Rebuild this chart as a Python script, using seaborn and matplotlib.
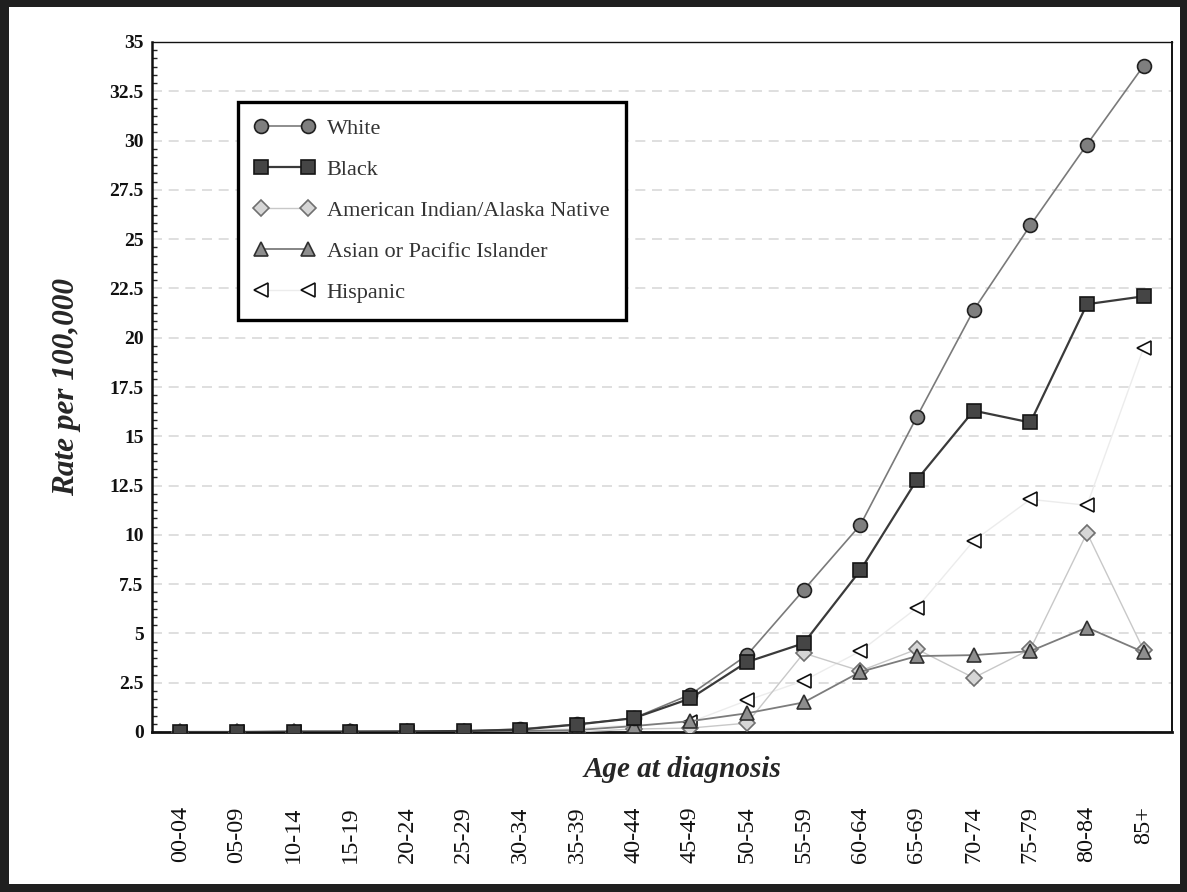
import matplotlib as mpl
mpl.use("Agg")
import matplotlib.pyplot as plt
import pandas as pd
import seaborn as sns
from matplotlib.patches import Rectangle
from matplotlib.ticker import AutoMinorLocator, FormatStrFormatter, MultipleLocator

# age groups and rates per 100,000
ages = ["00-04", "05-09", "10-14", "15-19", "20-24", "25-29", "30-34", "35-39", "40-44",
        "45-49", "50-54", "55-59", "60-64", "65-69", "70-74", "75-79", "80-84", "85+"]
white = [0.0, 0.0, 0.02, 0.03, 0.03, 0.05, 0.15, 0.4, 0.7, 1.9, 3.9, 7.2, 10.5, 16.0, 21.4, 25.7, 29.8, 33.8]
black = [0.0, 0.0, 0.02, 0.02, 0.03, 0.05, 0.12, 0.38, 0.7, 1.7, 3.55, 4.5, 8.2, 12.8, 16.3, 15.7, 21.7, 22.1]
aian = [0.0, 0.0, 0.0, 0.0, 0.0, 0.0, 0.03, 0.0, 0.15, 0.2, 0.45, 4.0, 3.1, 4.2, 2.75, 4.2, 10.1, 4.15]
asian = [0.0, 0.0, 0.0, 0.0, 0.0, 0.02, 0.05, 0.1, 0.3, 0.55, 0.95, 1.5, 3.05, 3.85, 3.9, 4.1, 5.3, 4.05]
hispanic = [0.0, 0.0, 0.0, 0.0, 0.0, 0.02, 0.05, 0.2, 0.35, 0.5, 1.6, 2.6, 4.1, 6.3, 9.7, 11.8, 11.5, 19.5]

series = {
    "White": white,
    "Black": black,
    "American Indian/Alaska Native": aian,
    "Asian or Pacific Islander": asian,
    "Hispanic": hispanic,
}

styles = {
    "White": dict(color="#7a7a7a", marker="o", mfc="#7f7f7f", mec="#202020", lw=1.2, z=5),
    "Black": dict(color="#3a3a3a", marker="s", mfc="#454545", mec="#151515", lw=1.6, z=6),
    "American Indian/Alaska Native": dict(color="#c8c8c8", marker="D", mfc="#d6d6d6", mec="#707070", lw=1.0, z=3),
    "Asian or Pacific Islander": dict(color="#7c7c7c", marker="^", mfc="#8e8e8e", mec="#303030", lw=1.3, z=4),
    "Hispanic": dict(color="#ececec", marker="<", mfc="white", mec="#101010", lw=1.0, z=2),
}

sns.set_style("white")
plt.rcParams["font.family"] = ["Liberation Serif", "DejaVu Serif"]

fig = plt.figure(figsize=(11.87, 8.92), dpi=100)
fig.patch.set_facecolor("#1f1f1f")
fig.patches.append(Rectangle((9 / 1187, 8 / 892), 1 - 16 / 1187, 1 - 15 / 892,
                             transform=fig.transFigure, facecolor="white", edgecolor="none", zorder=-10))
ax = fig.add_axes([152 / 1187, 160 / 892, 1020 / 1187, 690 / 892])
ax.set_facecolor("white")

for name, vals in series.items():
    st = styles[name]
    df = pd.DataFrame({"age": ages, "rate": vals})
    sns.lineplot(data=df, x="age", y="rate", ax=ax, sort=False, label=name,
                 color=st["color"], linewidth=st["lw"], marker=st["marker"],
                 markersize=10 if st["marker"] != "D" else 8,
                 markerfacecolor=st["mfc"], markeredgecolor=st["mec"], markeredgewidth=1.2,
                 zorder=st["z"])

ax.set_xlim(-0.5, 17.5)
ax.set_ylim(0, 35)
ax.yaxis.set_major_locator(MultipleLocator(2.5))
ax.yaxis.set_major_formatter(FormatStrFormatter("%g"))
ax.yaxis.set_minor_locator(AutoMinorLocator(6))
ax.grid(axis="y", which="major", color="#d9d9d9", linestyle=(0, (6, 4)), linewidth=1.2)
ax.set_axisbelow(True)

for side, lw in {"left": 1.8, "bottom": 2.0, "top": 1.0, "right": 1.4}.items():
    ax.spines[side].set_visible(True)
    ax.spines[side].set_linewidth(lw)
    ax.spines[side].set_color("#111111")

ax.tick_params(axis="y", which="major", direction="in", length=5, width=1.2, pad=6,
               labelsize=14, colors="#111111")
ax.tick_params(axis="y", which="minor", direction="in", length=3.5, width=1.0, left=True)
ax.tick_params(axis="x", which="major", direction="inout", length=9, width=1.2, pad=49,
               labelsize=17.5, labelrotation=90, colors="#111111")
for lab in ax.get_yticklabels():
    lab.set_fontweight("bold")
for lab in ax.get_xticklabels():
    lab.set_va("top")

ax.set_ylabel("Rate per 100,000", fontsize=22.5, fontweight="bold", fontstyle="italic", labelpad=20)
ax.set_xlabel("Age at diagnosis", fontsize=21, fontweight="bold", fontstyle="italic")
ax.xaxis.set_label_coords(0.52, -0.035)

handles, labels = ax.get_legend_handles_labels()
leg = ax.legend(handles, labels, loc="upper left", bbox_to_anchor=(0.084, 0.913), borderaxespad=0,
                frameon=True, fancybox=False, edgecolor="black", framealpha=1, numpoints=2,
                fontsize=16, handlelength=2.7, handletextpad=0.55, labelspacing=0.92,
                borderpad=0.75)
leg.get_frame().set_linewidth(2.4)
for t in leg.get_texts():
    t.set_color("#333333")

fig.savefig("out.png", dpi=100, facecolor=fig.get_facecolor())
